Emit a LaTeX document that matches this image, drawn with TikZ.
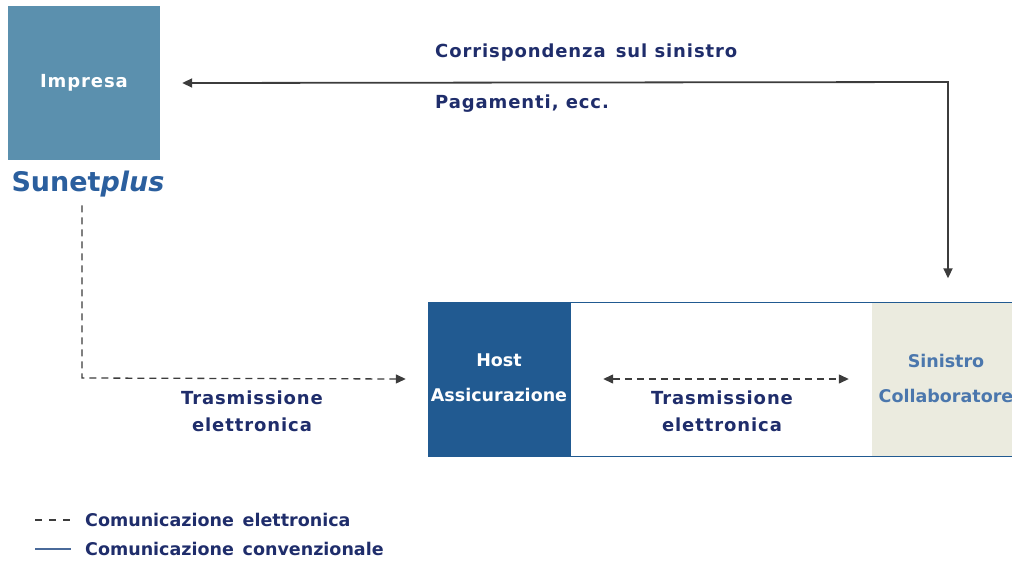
\documentclass[tikz,border=0pt]{standalone}
\usepackage{fontspec}
\setmainfont{DejaVu Sans}
\newfontfamily\widefont[LetterSpace=5]{DejaVu Sans}
\usetikzlibrary{arrows.meta}
\tikzset{solid link/.style={draw=arrow_grey, line width=1.8pt, {Triangle[length=10pt,width=9pt]}-{Triangle[length=10pt,width=9pt]}}}
\tikzset{dash link/.style={draw=arrow_grey, line width=1.3pt, dash pattern=on 7pt off 5pt}}
\tikzset{label text/.style={text=text_navy, font=\widefont\bfseries\fontsize{18}{27}\selectfont, align=center, inner sep=0pt}}
\definecolor{impresa_blue}{HTML}{5B90AE}
\definecolor{host_blue}{HTML}{215A91}
\definecolor{sinistro_beige}{HTML}{EBEBDF}
\definecolor{sunet_blue}{HTML}{2B5F9E}
\definecolor{text_navy}{HTML}{1F2D6B}
\definecolor{arrow_grey}{HTML}{3C3C3C}
\definecolor{legend_blue}{HTML}{4A6A9A}

\begin{document}
\begin{tikzpicture}[x=1pt, y=-1pt]
\useasboundingbox (0,0) rectangle (1012,563);

% Impresa box with the Sunetplus name below it
\node[fill=impresa_blue, minimum width=152pt, minimum height=154pt, inner sep=0pt] (impresa) at (84,83) {};
\node[text=white, font=\widefont\bfseries\fontsize{18}{22}\selectfont] (impresatxt) at (84,83) {Impresa};
\node[text=sunet_blue, font=\bfseries\fontsize{27}{30}\selectfont, inner sep=0pt] (sunet) at (88,184) {Sunet\textit{plus}};

% Outer frame of the bottom row
\draw[draw=host_blue, line width=0.8pt] (428,302) rectangle (1030,456);
% Host box on the left of the frame
\node[fill=host_blue, minimum width=143pt, minimum height=154pt, inner sep=0pt] (host) at (499.5,379) {};
\node[text=white, font=\bfseries\fontsize{17.5}{35}\selectfont, align=center] (hosttxt) at (499,378) {Host\\Assicurazione};
% Sinistro box on the right, cut by the page edge
\node[fill=sinistro_beige, minimum width=158pt, minimum height=153pt, inner sep=0pt] (sinistro) at (951,379) {};
\node[text=sunet_blue!85, font=\bfseries\fontsize{17.5}{35}\selectfont, align=center] (sinistrotxt) at (946,378) {Sinistro\\Collaboratore};

% Corner points of the connectors
\coordinate (corner) at (948,82);
\coordinate (sunetbend) at (82,378);

% Solid link between Impresa and Sinistro
\draw[solid link] (impresa.east) ++(22,0) -- (corner) -- ([yshift=24pt]sinistro.north -| corner);
% Dashed link from Sunetplus down to Host
\draw[dash link, -{Triangle[length=10pt,width=9pt]}] ([yshift=-8pt]sunet.south -| sunetbend) -- (sunetbend) -- ([xshift=-22pt]host.west);
% Dashed link between Host and Sinistro
\draw[dash link, {Triangle[length=10pt,width=9pt]}-{Triangle[length=10pt,width=9pt]}] ([xshift=32pt]host.east) -- ([xshift=-23pt]sinistro.west);

% Labels of the links
\node[label text, anchor=west] (corrisp) at (435,53) {Corrispondenza\, sul sinistro};
\node[label text, anchor=west] (pagam) at (435,104) {Pagamenti, ecc.};
\node[label text] (trasm1) at (252,411) {Trasmissione\\elettronica};
\node[label text] (trasm2) at (722,411) {Trasmissione\\elettronica};

% Legend
\coordinate (legA) at (35,520);
\coordinate (legB) at (35,549);
\draw[dash link, dash pattern=on 7pt off 7pt] (legA) -- ++(35,0);
\draw[draw=legend_blue, line width=1.8pt] (legB) -- ++(36,0);
\node[label text, anchor=west, font=\bfseries\fontsize{17.5}{20}\selectfont] (legtxtA) at (85,520) {Comunicazione\enspace elettronica};
\node[label text, anchor=west, font=\bfseries\fontsize{17.5}{20}\selectfont] (legtxtB) at (85,549) {Comunicazione\enspace convenzionale};

\end{tikzpicture}
\end{document}
